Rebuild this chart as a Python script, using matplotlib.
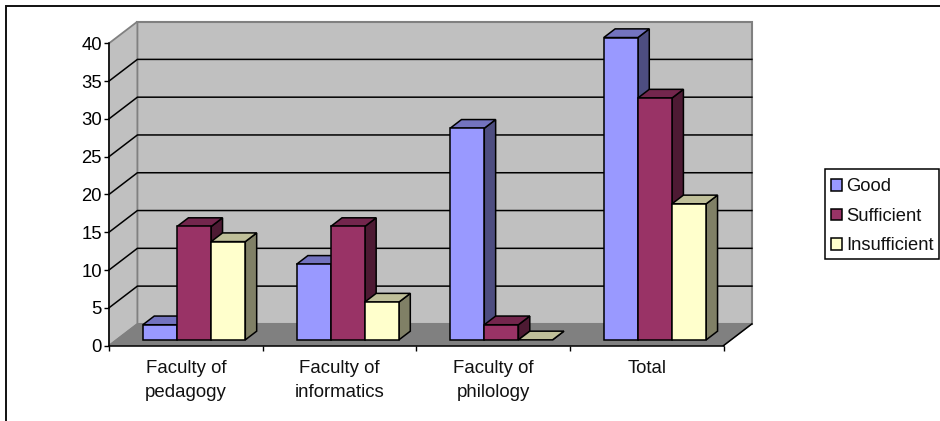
import matplotlib
matplotlib.use("Agg")
import matplotlib.pyplot as plt
from matplotlib.lines import Line2D
from matplotlib.patches import Polygon, Patch, Rectangle

plt.rcParams["font.family"] = ["Liberation Sans", "DejaVu Sans"]

# Survey results per faculty
categories = ["Faculty of\npedagogy", "Faculty of\ninformatics", "Faculty of\nphilology", "Total"]
series_names = ["Good", "Sufficient", "Insufficient"]
good = [2, 10, 28, 40]
sufficient = [15, 15, 2, 32]
insufficient = [13, 5, 0, 18]
y_ticks = [0, 5, 10, 15, 20, 25, 30, 35, 40]

face_colors = ["#9999FF", "#993366", "#FFFFCC"]
top_colors = ["#7373BF", "#73264D", "#BFBF99"]
side_colors = ["#4D4D80", "#4D1A33", "#808066"]

W, H = 940, 421
fig = plt.figure(figsize=(W / 100, H / 100), dpi=100)
ax = fig.add_axes([109 / W, (H - 345.6) / H, 614.5 / W, 302.3 / H])
ax.set_xlim(0, len(categories))
ax.set_ylim(0, 40)

# Oblique projection: depth 0 is the front plane, depth 1 the back wall
DX = 28.4 / 153.6
DY = 21.7 / 7.557


def proj(x, y, d):
    return (x + d * DX, y + d * DY)


def add_poly(points, face, edge, lw, z):
    ax.add_patch(Polygon([proj(*p) for p in points], closed=True, facecolor=face,
                         edgecolor=edge, linewidth=lw, zorder=z, clip_on=False,
                         joinstyle="miter"))


n = len(categories)
ymax = y_ticks[-1]
# Walls and floor
add_poly([(0, 0, 1), (n, 0, 1), (n, ymax, 1), (0, ymax, 1)], "#C0C0C0", "#808080", 1.5, 1)
add_poly([(0, 0, 0), (0, 0, 1), (0, ymax, 1), (0, ymax, 0)], "#C0C0C0", "#808080", 1.3, 1)
add_poly([(0, 0, 0), (n, 0, 0), (n, 0, 1), (0, 0, 1)], "#808080", "#808080", 0.8, 1.1)

# Gridlines on the back and left walls
for t in y_ticks[1:-1]:
    xs, ys = zip(proj(0, t, 0), proj(0, t, 1), proj(n, t, 1))
    ax.plot(xs, ys, color="black", lw=1.1, zorder=1.5, clip_on=False)
xs, ys = zip(proj(n, 0, 0), proj(n, 0, 1))
ax.plot(xs, ys, color="black", lw=1.1, zorder=1.5, clip_on=False)

# Bars, drawn left to right so each one overlaps the side of the previous
bar_w = 1 / 4.5
d0, d1 = 0.265, 0.665
bar_shift = 0.005
z = 3
for i in range(n):
    for j, values in enumerate([good, sufficient, insufficient]):
        v = values[i]
        x0 = i + 0.75 * bar_w + j * bar_w + bar_shift
        x1 = x0 + bar_w
        add_poly([(x1, 0, d0), (x1, 0, d1), (x1, v, d1), (x1, v, d0)], side_colors[j], "black", 1.1, z)
        add_poly([(x0, v, d0), (x1, v, d0), (x1, v, d1), (x0, v, d1)], top_colors[j], "black", 1.1, z)
        if v > 0:
            add_poly([(x0, 0, d0), (x1, 0, d0), (x1, v, d0), (x0, v, d0)], face_colors[j], "black", 1.1, z)
        z += 1

# Axes
for name in ("top", "right"):
    ax.spines[name].set_visible(False)
ax.patch.set_visible(False)
for name in ("left", "bottom"):
    ax.spines[name].set_linewidth(1.1)
    ax.spines[name].set_zorder(2)
ax.set_yticks(y_ticks)
ax.set_xticks(range(n + 1))
ax.set_xticklabels([])
ax.set_xticks([i + 0.5 for i in range(n)], minor=True)
ax.set_xticklabels(categories, minor=True, linespacing=1.5, va="top")
ax.tick_params(axis="x", which="major", length=3.5, width=1.0, direction="out")
ax.tick_params(axis="x", which="minor", length=0, labelsize=13.4, pad=10.7, colors="#111111")
ax.tick_params(axis="y", length=3.5, width=1.0, labelsize=13.3, pad=1.5, colors="black")

# Legend box, with the entries placed inside it
fig.add_artist(Rectangle((824.5 / W, (H - 259) / H), 114.5 / W, 90 / H,
                         transform=fig.transFigure, facecolor="white",
                         edgecolor="black", linewidth=1.1))
handles = [Patch(facecolor=c, edgecolor="black", linewidth=1.1, label=s)
           for c, s in zip(face_colors, series_names)]
leg = fig.legend(handles=handles, loc="upper left",
                 bbox_to_anchor=(824.5 / W, (H - 171.5) / H), bbox_transform=fig.transFigure,
                 frameon=False, fontsize=13.2, labelspacing=0.68, handlelength=0.6,
                 handleheight=0.6, handletextpad=0.2, borderaxespad=0, borderpad=0.38,
                 labelcolor="#111111")

# Outer frame: only the top and left edges are present
fig.add_artist(Line2D([6 / W, 6 / W, 1], [0, (H - 6) / H, (H - 6) / H],
                      transform=fig.transFigure, color="#111111", lw=1.4, solid_joinstyle="miter"))

fig.savefig("out.png", dpi=100)
